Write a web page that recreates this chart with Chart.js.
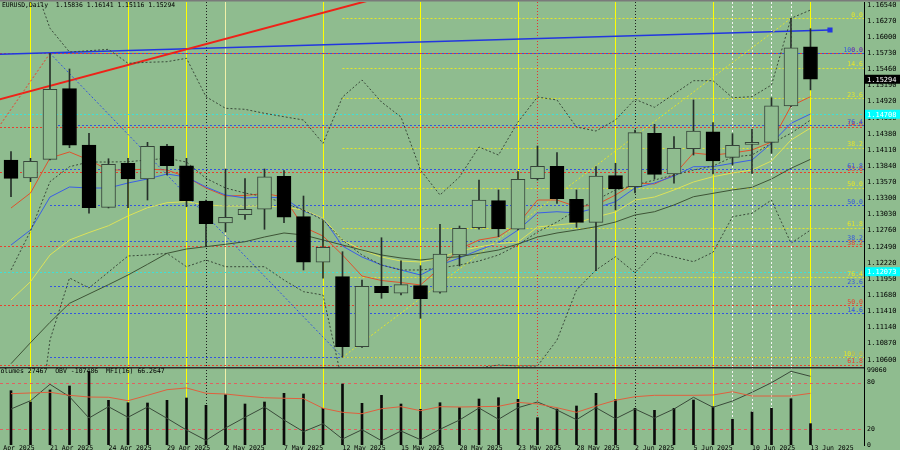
<!DOCTYPE html>
<html>
<head>
<meta charset="utf-8">
<script src="https://cdn.jsdelivr.net/npm/chart.js@4.4.1/dist/chart.umd.min.js"></script>
<style>
  html, body { margin: 0; padding: 0; background: #8fbc8f; }
  #wrap { position: relative; width: 900px; height: 450px; overflow: hidden; }
  #main { position: absolute; left: 0; top: 0; width: 900px; height: 367px; }
  #sub { position: absolute; left: 0; top: 367px; width: 900px; height: 83px; }
</style>
</head>
<body>
<div id="wrap">
  <canvas id="main" width="900" height="367"></canvas>
  <canvas id="sub" width="900" height="83"></canvas>
</div>
<script>
// EURUSD daily bars, 17 Apr 2025 .. 13 Jun 2025
const dates = ['17 Apr', '18 Apr', '21 Apr', '22 Apr', '23 Apr', '24 Apr', '25 Apr', '28 Apr', '29 Apr', '30 Apr',
  '1 May', '2 May', '5 May', '6 May', '7 May', '8 May', '9 May', '12 May', '13 May', '14 May',
  '15 May', '16 May', '19 May', '20 May', '21 May', '22 May', '23 May', '26 May', '27 May', '28 May',
  '29 May', '30 May', '2 Jun', '3 Jun', '4 Jun', '5 Jun', '6 Jun', '9 Jun', '10 Jun', '11 Jun',
  '12 Jun', '13 Jun'];

const opens = [1.13943, 1.13641, 1.13954, 1.15136, 1.14194, 1.13151, 1.13888, 1.13625, 1.14177, 1.13847,
  1.13257, 1.12888, 1.13027, 1.13118, 1.13670, 1.12994, 1.12231, 1.11990, 1.10818, 1.11829,
  1.11712, 1.11839, 1.11729, 1.12353, 1.12810, 1.13262, 1.12783, 1.13630, 1.13837, 1.13285,
  1.12900, 1.13680, 1.13496, 1.14390, 1.13708, 1.14132, 1.14416, 1.13988, 1.14205, 1.14239,
  1.14846, 1.15836];
const highs = [1.14082, 1.13971, 1.15728, 1.15466, 1.14390, 1.13964, 1.13971, 1.14239, 1.14205, 1.13971,
  1.13273, 1.13792, 1.13630, 1.13792, 1.13764, 1.13340, 1.12927, 1.12408, 1.11934, 1.12642,
  1.12257, 1.12174, 1.12867, 1.12838, 1.13608, 1.13441, 1.13747, 1.14177, 1.14065, 1.13441,
  1.13831, 1.13888, 1.14445, 1.14540, 1.14333, 1.14947, 1.14567, 1.14383, 1.14457, 1.14985,
  1.16314, 1.16141];
const lows = [1.13328, 1.13580, 1.13943, 1.14149, 1.13051, 1.13140, 1.13144, 1.13273, 1.13692, 1.13161,
  1.12492, 1.12738, 1.12950, 1.12783, 1.12893, 1.12102, 1.11963, 1.10641, 1.10805, 1.11628,
  1.11683, 1.11293, 1.11712, 1.12169, 1.12783, 1.12659, 1.12771, 1.13608, 1.13218, 1.12816,
  1.12090, 1.13106, 1.13390, 1.13625, 1.13553, 1.14026, 1.13708, 1.13859, 1.13720, 1.14055,
  1.14830, 1.15116];
const closes = [1.13636, 1.13921, 1.15126, 1.14189, 1.13144, 1.13871, 1.13625, 1.14172, 1.13847, 1.13262,
  1.12877, 1.12984, 1.13118, 1.13663, 1.12984, 1.12231, 1.12482, 1.10818, 1.11829, 1.11722,
  1.11856, 1.11621, 1.12370, 1.12800, 1.13273, 1.12788, 1.13620, 1.13837, 1.13295, 1.12900,
  1.13675, 1.13457, 1.14400, 1.13703, 1.14139, 1.14428, 1.13926, 1.14189, 1.14239, 1.14851,
  1.15822, 1.15294];

// moving averages
const maFast = [1.13139, 1.13390, 1.13976, 1.14077, 1.13943, 1.13775, 1.13775, 1.13792, 1.13775, 1.13658,
  1.13474, 1.13340, 1.13349, 1.13382, 1.13323, 1.12821, 1.12671, 1.12353, 1.12001, 1.11926,
  1.11892, 1.11851, 1.12135, 1.12453, 1.12604, 1.12659, 1.12872, 1.13273, 1.13273, 1.13161,
  1.13190, 1.13357, 1.13558, 1.13541, 1.13692, 1.14060, 1.14026, 1.14060, 1.14110, 1.14244,
  1.14846, 1.15002];
const maMid = [1.12520, 1.12771, 1.13323, 1.13491, 1.13474, 1.13474, 1.13558, 1.13625, 1.13708, 1.13658,
  1.13491, 1.13357, 1.13307, 1.13323, 1.13307, 1.13089, 1.12972, 1.12503, 1.12319, 1.12185,
  1.12102, 1.12018, 1.12185, 1.12303, 1.12436, 1.12554, 1.12771, 1.13056, 1.13077, 1.13056,
  1.13139, 1.13245, 1.13474, 1.13558, 1.13675, 1.13831, 1.13831, 1.13888, 1.13943, 1.14222,
  1.14557, 1.14713];
const maYellow = [1.11600, 1.11906, 1.12353, 1.12604, 1.12729, 1.12843, 1.13006, 1.13144, 1.13228, 1.13245,
  1.13190, 1.13173, 1.13173, 1.13173, 1.13156, 1.13106, 1.12972, 1.12604, 1.12436, 1.12319,
  1.12252, 1.12236, 1.12303, 1.12420, 1.12487, 1.12545, 1.12570, 1.12821, 1.12855, 1.12888,
  1.12989, 1.13072, 1.13273, 1.13323, 1.13441, 1.13575, 1.13663, 1.13725, 1.13775, 1.13926,
  1.14277, 1.14478];
const maSlow = [1.10534, 1.10885, 1.11226, 1.11544, 1.11700, 1.11856, 1.12018, 1.12197, 1.12381, 1.12453,
  1.12492, 1.12532, 1.12575, 1.12654, 1.12721, 1.12688, 1.12604, 1.12520, 1.12436, 1.12353,
  1.12303, 1.12269, 1.12303, 1.12324, 1.12381, 1.12436, 1.12537, 1.12654, 1.12721, 1.12771,
  1.12826, 1.12905, 1.13022, 1.13077, 1.13190, 1.13328, 1.13385, 1.13441, 1.13486, 1.13625,
  1.13804, 1.13954];

// bollinger bands
const bbUpper = [1.17541, 1.17056, 1.16147, 1.15750, 1.15772, 1.15795, 1.15561, 1.15578, 1.15588, 1.15645,
  1.15002, 1.14808, 1.14791, 1.14724, 1.14667, 1.14612, 1.14222, 1.14997, 1.15282, 1.14913,
  1.14662, 1.13775, 1.13357, 1.13658, 1.14160, 1.14026, 1.14579, 1.14997, 1.14947, 1.14495,
  1.14428, 1.14612, 1.14959, 1.14825, 1.15047, 1.15270, 1.15270, 1.14985, 1.15002, 1.15198,
  1.16314, 1.16453];
const bbMiddle = [1.12102, 1.12754, 1.13580, 1.13831, 1.13909, 1.13909, 1.13914, 1.13943, 1.13971, 1.13909,
  1.13636, 1.13474, 1.13390, 1.13328, 1.13223, 1.13106, 1.12939, 1.12604, 1.12353, 1.12185,
  1.12102, 1.12102, 1.12135, 1.12185, 1.12252, 1.12353, 1.12520, 1.12738, 1.12905, 1.13106,
  1.13273, 1.13441, 1.13524, 1.13608, 1.13692, 1.13775, 1.13842, 1.13993, 1.14026, 1.14222,
  1.14390, 1.14612];
const bbLower = [1.06663, 1.08453, 1.10930, 1.11968, 1.11801, 1.12068, 1.12336, 1.12353, 1.12381, 1.12157,
  1.12269, 1.12157, 1.12157, 1.12157, 1.11934, 1.11739, 1.11683, 1.10211, 1.09424, 1.09457,
  1.09541, 1.10344, 1.10462, 1.10428, 1.10462, 1.10512, 1.10495, 1.10495, 1.10930, 1.11767,
  1.12102, 1.12324, 1.12057, 1.12398, 1.12319, 1.12241, 1.12398, 1.12994, 1.13051, 1.13273,
  1.12549, 1.12771];

// lower window
const volumes = [69860, 55320, 70760, 75900, 94300, 57510, 54420, 54030, 57510, 60470,
  51070, 64710, 52750, 55320, 66510, 65610, 47210, 78480, 53650, 63940,
  52750, 45930, 54420, 47990, 59180, 60850, 58790, 35120, 46310, 50170,
  66510, 58280, 47210, 44640, 47210, 57890, 49270, 33060, 42450, 47210,
  59560, 27467];
const obv = [-277526, -234366, -149086, -213566, -324326, -265566, -320686, -267126, -325886, -386726,
  -440286, -376326, -320686, -267126, -334726, -395566, -353966, -433526, -385166, -442366,
  -391926, -437166, -383086, -334726, -272326, -331086, -270766, -241126, -282726, -333166,
  -270766, -327966, -277526, -324326, -277526, -216686, -268686, -235926, -190686, -140766,
  -81486, -107486];
const mfi = [65.8, 66.7, 67.6, 63.7, 61.5, 61.2, 56.8, 63.7, 70.9, 73.1,
  66.3, 65.4, 62.8, 60.6, 59.9, 59.4, 47.1, 41.9, 40.1, 46.5,
  49.1, 44.0, 49.1, 48.7, 49.1, 49.6, 54.7, 52.6, 47.8, 41.9,
  50.0, 57.3, 61.9, 63.7, 63.7, 63.7, 64.1, 68.3, 62.8, 62.8,
  62.8, 66.2647];
const mfiLevels = [20, 80];
const mfiTicks = [0, 20, 80];
const volAxisLabel = 99060;

// axis ticks
const priceTicks = [1.16540, 1.16270, 1.16000, 1.15730, 1.15460, 1.15190, 1.14920, 1.14650, 1.14380, 1.14110,
  1.13840, 1.13570, 1.13300, 1.13030, 1.12760, 1.12490, 1.12220, 1.11950, 1.11680, 1.11410,
  1.11140, 1.10870, 1.10600];
const xTickIdx = [-1, 2, 5, 8, 11, 14, 17, 20, 23, 26, 29, 32, 35, 38, 41];
const xTickLabels = ['16 Apr 2025', '21 Apr 2025', '24 Apr 2025', '29 Apr 2025', '2 May 2025', '7 May 2025',
  '12 May 2025', '15 May 2025', '20 May 2025', '23 May 2025', '28 May 2025', '2 Jun 2025', '5 Jun 2025',
  '10 Jun 2025', '13 Jun 2025'];

// objects on the chart
const yellowDays = [1, 6, 9, 16, 21, 26, 31, 36, 41];
const paleDays = [11];
const whiteDotDays = [37, 38, 39, 40];
const blackDotDays = [10, 32];
const redDotDays = [27];
const cyanLevels = [1.14708, 1.12073];
const fibLevels = [0, 14.6, 23.6, 38.2, 50, 61.8, 76.4, 100];
const redFibLow = 1.07294;
const redFibStart = -16;
const redTrendIdx = [-1, 20];
const redTrendPrice = [1.14920, 1.16757];
const blueTrendIdx = [-1, 42];
const blueTrendPrice = [1.15708, 1.16118];

const BG = '#8fbc8f';
const X_MIN = -0.564, X_MAX = 43.744;
const P_MIN = 1.104783, P_MAX = 1.165871;
const MONO = "'DejaVu Sans Mono', monospace";
Chart.defaults.font.family = MONO;
Chart.defaults.color = '#000';

const pts = arr => arr.map((v, i) => ({ x: i, y: v }));
const line = (data, color, extra) => Object.assign({
  type: 'line', data: data, borderColor: color, borderWidth: 1, pointRadius: 0,
  tension: 0, fill: false, order: 10
}, extra || {});

const fibs = [
  { from: redFibStart, p0: highs[2], p100: redFibLow, color: '#e8402e' },
  { from: 2, p0: lows[17], p100: highs[2], color: '#3355e0' },
  { from: 17, p0: highs[40], p100: lows[17], color: '#e6e628' }
];

const vlineGroups = [
  { days: yellowDays, color: '#ffff00', dash: [] },
  { days: paleDays, color: '#f0f0a8', dash: [] },
  { days: whiteDotDays, color: '#f4f4f4', dash: [2, 2] },
  { days: blackDotDays, color: '#1e1e1e', dash: [1, 2] },
  { days: redDotDays, color: '#e83030', dash: [1, 2] }
];

function clipArea(ctx, a) {
  ctx.beginPath();
  ctx.rect(a.left, a.top, a.right - a.left, a.bottom - a.top);
  ctx.clip();
}

const bgPlugin = {
  id: 'bg',
  beforeDraw(chart) {
    const ctx = chart.ctx;
    ctx.save();
    ctx.fillStyle = BG;
    ctx.fillRect(0, 0, chart.width, chart.height);
    ctx.restore();
  }
};

const vlinePlugin = {
  id: 'vlines',
  beforeDatasetsDraw(chart) {
    const { ctx, chartArea: a, scales: { x } } = chart;
    ctx.save();
    ctx.lineWidth = 1;
    vlineGroups.forEach(g => {
      ctx.strokeStyle = g.color;
      ctx.setLineDash(g.dash);
      g.days.forEach(d => {
        const px = Math.round(x.getPixelForValue(d)) + 0.5;
        ctx.beginPath();
        ctx.moveTo(px, a.top);
        ctx.lineTo(px, a.bottom);
        ctx.stroke();
      });
    });
    ctx.restore();
  }
};

const mainOverlay = {
  id: 'mainOverlay',
  beforeDatasetsDraw(chart) {
    const { ctx, chartArea: a, scales: { x, y } } = chart;
    ctx.save();
    clipArea(ctx, a);
    ctx.lineWidth = 1;
    // cyan price lines
    ctx.strokeStyle = '#3ee0d8';
    ctx.setLineDash([2, 2]);
    cyanLevels.forEach(p => {
      const py = Math.round(y.getPixelForValue(p)) + 0.5;
      ctx.beginPath(); ctx.moveTo(a.left, py); ctx.lineTo(a.right, py); ctx.stroke();
    });
    // fibonacci levels
    fibs.forEach(f => {
      ctx.strokeStyle = f.color;
      const x0 = Math.max(a.left, x.getPixelForValue(f.from));
      fibLevels.forEach(l => {
        const py = Math.round(y.getPixelForValue(f.p0 + (f.p100 - f.p0) * l / 100)) + 0.5;
        if (py < a.top || py > a.bottom) return;
        ctx.beginPath(); ctx.moveTo(x0, py); ctx.lineTo(a.right, py); ctx.stroke();
      });
    });
    ctx.restore();
  },
  afterDatasetsDraw(chart) {
    const { ctx, chartArea: a, scales: { y } } = chart;
    ctx.save();
    clipArea(ctx, a);
    ctx.font = '6.5px ' + MONO;
    ctx.textAlign = 'right';
    ctx.textBaseline = 'middle';
    fibs.forEach(f => {
      ctx.fillStyle = f.color;
      fibLevels.forEach(l => {
        const py = y.getPixelForValue(f.p0 + (f.p100 - f.p0) * l / 100);
        if (py < a.top || py > a.bottom + 2) return;
        ctx.fillText(l.toFixed(1), a.right - 1, py - 3);
      });
    });
    ctx.restore();
  },
  afterDraw(chart) {
    const { ctx, chartArea: a, scales: { y } } = chart;
    ctx.save();
    ctx.fillStyle = '#7a7a7a';
    ctx.fillRect(0, 0, chart.width, 1.5);
    // title
    ctx.font = '6.4px ' + MONO;
    ctx.fillStyle = '#000';
    ctx.textAlign = 'left';
    ctx.textBaseline = 'middle';
    const last = opens.length - 1;
    ctx.fillText('EURUSD,Daily  ' + [opens[last], highs[last], lows[last], closes[last]].map(v => v.toFixed(5)).join(' '), 2, 5);
    // axis price boxes
    ctx.font = '7px ' + MONO;
    const box = (p, bg, fg) => {
      const py = y.getPixelForValue(p);
      ctx.fillStyle = bg;
      ctx.fillRect(a.right + 1, py - 4.5, chart.width - a.right - 1, 9);
      ctx.fillStyle = fg;
      ctx.fillText(p.toFixed(5), a.right + 3, py + 0.5);
    };
    cyanLevels.forEach(p => box(p, '#00ffff', '#ffffff'));
    box(closes[last], '#000', '#ffffff');
    ctx.restore();
  }
};

// candle bodies and wicks as floating bars
const bodies = opens.map((o, i) => ({ x: i, y: [o, closes[i]] }));
const wicks = lows.map((l, i) => ({ x: i, y: [l, highs[i]] }));
const isBull = i => closes[i] >= opens[i];

new Chart(document.getElementById('main'), {
  type: 'bar',
  data: {
    datasets: [
      { type: 'bar', data: bodies, barThickness: 14, grouped: false, order: 1,
        backgroundColor: c => isBull(c.dataIndex) ? BG : '#000',
        borderColor: c => isBull(c.dataIndex) ? '#36443a' : '#000',
        borderWidth: 1, borderSkipped: false },
      { type: 'bar', data: wicks, barThickness: 1, grouped: false, order: 2,
        backgroundColor: '#26302a' },
      line(pts(bbUpper), '#3a4a3a', { borderDash: [2, 2] }),
      line(pts(bbMiddle), '#3a4a3a', { borderDash: [2, 2] }),
      line(pts(bbLower), '#3a4a3a', { borderDash: [2, 2] }),
      line(pts(maSlow), '#3e5436'),
      line(pts(maYellow), '#dce25a'),
      line(pts(maMid), '#3a5ee6'),
      line(pts(maFast), '#e0522c'),
      line([{ x: redFibStart, y: redFibLow }, { x: 2, y: highs[2] }], '#e8402e', { borderDash: [2, 2] }),
      line([{ x: 2, y: highs[2] }, { x: 17, y: lows[17] }], '#3355e0', { borderDash: [2, 2] }),
      line([{ x: 17, y: lows[17] }, { x: 40, y: highs[40] }], '#e6e628', { borderDash: [2, 2] }),
      line(redTrendIdx.map((v, i) => ({ x: v, y: redTrendPrice[i] })), '#ee2218', { borderWidth: 2 }),
      line(blueTrendIdx.map((v, i) => ({ x: v, y: blueTrendPrice[i] })), '#2236e0',
        { borderWidth: 1.6, pointStyle: 'rect', pointRadius: [0, 2.5], backgroundColor: '#2236e0' })
    ]
  },
  options: {
    responsive: false,
    animation: false,
    events: [],
    layout: { padding: { top: 2, bottom: 0, left: 0, right: 0 }, autoPadding: false },
    plugins: { legend: { display: false }, tooltip: { enabled: false } },
    scales: {
      x: { type: 'linear', min: X_MIN, max: X_MAX, display: false, offset: false },
      y: {
        position: 'right', min: P_MIN, max: P_MAX,
        grid: { display: false, drawTicks: false },
        border: { display: true, color: '#000', width: 1 },
        ticks: { font: { size: 7 }, color: '#000', padding: 3, callback: v => v.toFixed(5) },
        afterBuildTicks: s => { s.ticks = priceTicks.map(v => ({ value: v })); },
        afterFit: s => { s.width = 36; s.paddingTop = 0; s.paddingBottom = 0; }
      }
    }
  },
  plugins: [bgPlugin, vlinePlugin, mainOverlay]
});

// lower window
const subOverlay = {
  id: 'subOverlay',
  beforeDatasetsDraw(chart) {
    const { ctx, chartArea: a, scales } = chart;
    ctx.save();
    ctx.strokeStyle = '#e06060';
    ctx.lineWidth = 1;
    ctx.setLineDash([3, 3]);
    mfiLevels.forEach(l => {
      const py = Math.round(scales.yMfi.getPixelForValue(l)) + 0.5;
      ctx.beginPath(); ctx.moveTo(a.left, py); ctx.lineTo(a.right, py); ctx.stroke();
    });
    ctx.restore();
  },
  afterDraw(chart) {
    const { ctx, chartArea: a, scales } = chart;
    ctx.save();
    ctx.fillStyle = '#2c2c2c';
    ctx.fillRect(0, 0, a.right, 1.5);
    const last = volumes.length - 1;
    ctx.font = '6.5px ' + MONO;
    ctx.fillStyle = '#000';
    ctx.textAlign = 'left';
    ctx.textBaseline = 'middle';
    ctx.fillText('Volumes ' + volumes[last] + '  OBV ' + obv[last] + '  MFI(16) ' + mfi[last].toFixed(4), -3.5, 4.5);
    const vy = Math.max(scales.yVol.getPixelForValue(volAxisLabel), a.top + 3.5);
    ctx.fillText(String(volAxisLabel), a.right + 3, vy);
    // date labels under the bars
    xTickIdx.forEach((d, k) => {
      ctx.fillText(xTickLabels[k], scales.x.getPixelForValue(d), a.bottom + 3);
    });
    ctx.restore();
  }
};

new Chart(document.getElementById('sub'), {
  type: 'bar',
  data: {
    datasets: [
      { type: 'bar', data: pts(volumes), yAxisID: 'yVol', backgroundColor: '#0a0a0a',
        barThickness: 2, grouped: false, order: 3 },
      line(pts(obv), '#3a4a3a', { yAxisID: 'yObv', order: 2 }),
      line(pts(mfi), '#e0603e', { yAxisID: 'yMfi', order: 1 })
    ]
  },
  options: {
    responsive: false,
    animation: false,
    events: [],
    layout: { padding: { top: 0, left: 0, right: 0, bottom: 5 }, autoPadding: false },
    plugins: { legend: { display: false }, tooltip: { enabled: false } },
    scales: {
      x: { type: 'linear', min: X_MIN, max: X_MAX, offset: false, display: false },
      yMfi: {
        position: 'right', min: 0, max: 100,
        grid: { display: false, drawTicks: false },
        border: { display: true, color: '#000', width: 1 },
        ticks: { font: { size: 6.5 }, color: '#000', padding: 3 },
        afterBuildTicks: s => { s.ticks = mfiTicks.map(v => ({ value: v })); },
        afterFit: s => { s.width = 36; s.paddingTop = 0; s.paddingBottom = 0; }
      },
      yVol: { display: false, min: 0, max: 100350 },
      yObv: { display: false, min: -464726, max: -59126 }
    }
  },
  plugins: [bgPlugin, vlinePlugin, subOverlay]
});
</script>
</body>
</html>
